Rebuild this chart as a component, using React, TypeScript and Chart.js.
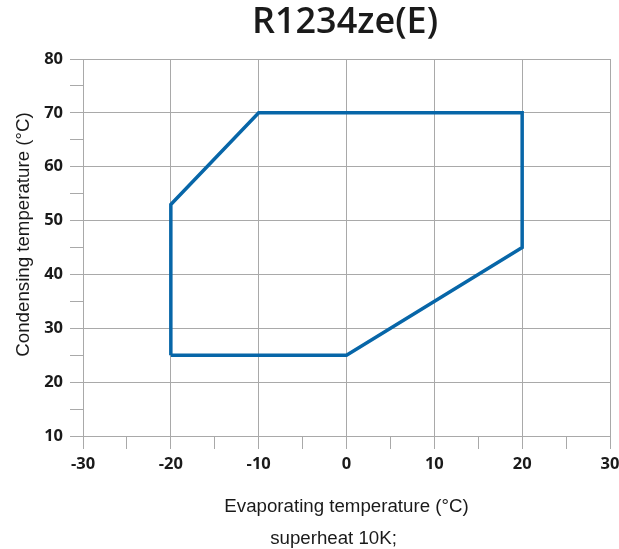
import React, { useEffect, useRef } from "react";
import { Chart, registerables } from "chart.js";

Chart.register(...registerables);

const chartTitle = "R1234ze(E)";
const xAxisTitle = ["Evaporating temperature (°C)", "superheat 10K;     "];
const yAxisTitle = "     Condensing temperature (°C)";
const envelopeX = [-20, -20, -10, 20, 20, 0, -20];
const envelopeY = [25, 53, 70, 70, 45, 25, 25];
const xRange = [-30, 30];
const yRange = [10, 80];

const GRID = "#a9a9a9";

const titlePlugin = {
  id: "topTitle",
  afterDraw(chart: any) {
    const ctx = chart.ctx;
    ctx.save();
    ctx.font = '600 36px "Open Sans"';
    ctx.fillStyle = "#1a1a1a";
    ctx.textAlign = "center";
    ctx.textBaseline = "middle";
    ctx.fillText(chartTitle, 345, 23);
    ctx.restore();
  },
};

export default function App() {
  const ref = useRef<HTMLCanvasElement>(null);
  useEffect(() => {
    if (!ref.current) return;
    const data = envelopeX.map((x, i) => ({ x, y: envelopeY[i] }));
    const chart = new Chart(ref.current, {
      type: "scatter",
      data: {
        datasets: [
          {
            data,
            showLine: true,
            borderColor: "#0766a8",
            borderWidth: 3.5,
            pointRadius: 0,
            fill: false,
            tension: 0,
          },
        ],
      },
      options: {
        animation: false,
        responsive: false,
        devicePixelRatio: 1,
        layout: { padding: { top: 59, right: 9, left: 0, bottom: 0 } },
        plugins: { legend: { display: false }, tooltip: { enabled: false }, title: { display: false } },
        scales: {
          x: {
            type: "linear",
            min: xRange[0],
            max: xRange[1],
            afterFit: (s: any) => {
              s.height = 113;
              s.paddingRight = 0;
              s.paddingLeft = 0;
            },
            ticks: {
              stepSize: 5,
              autoSkip: false,
              maxRotation: 0,
              padding: 5,
              color: "#1a1a1a",
              font: { family: '"Open Sans"', size: 16.5, weight: "bold" },
              callback: (v: any) => (Number(v) % 10 === 0 ? String(v) : ""),
            },
            grid: {
              color: (c: any) => (c.tick && c.tick.value % 10 === 0 ? GRID : "rgba(0,0,0,0)"),
              tickColor: GRID,
              tickLength: 13,
              lineWidth: 1,
            },
            border: { color: GRID, width: 1 },
            title: {
              display: true,
              text: xAxisTitle,
              color: "#1a1a1a",
              font: { family: '"Liberation Sans"', size: 18.7, lineHeight: 32 / 18.7 },
              padding: { top: 0, bottom: -6 },
            },
          },
          y: {
            type: "linear",
            min: yRange[0],
            max: yRange[1],
            afterFit: (s: any) => {
              s.width = 83;
            },
            ticks: {
              stepSize: 5,
              autoSkip: false,
              padding: 7,
              color: "#1a1a1a",
              font: { family: '"Open Sans"', size: 16.5, weight: "bold" },
              callback: (v: any) => (Number(v) % 10 === 0 ? String(v) : ""),
            },
            grid: {
              color: (c: any) => (c.tick && c.tick.value % 10 === 0 ? GRID : "rgba(0,0,0,0)"),
              tickColor: GRID,
              tickLength: 13,
              lineWidth: 1,
            },
            border: { color: GRID, width: 1 },
            title: {
              display: true,
              text: yAxisTitle,
              color: "#1a1a1a",
              font: { family: '"Liberation Sans"', size: 18.7, lineHeight: 1.2 },
              padding: { top: 12.5, bottom: 0 },
            },
          },
        },
      },
      plugins: [titlePlugin],
    });
    return () => chart.destroy();
  }, []);
  return (
    <div style={{ position: "fixed", left: 0, top: 0, width: 619, height: 549, background: "#fff" }}>
      <canvas ref={ref} width={619} height={549} style={{ display: "block" }} />
    </div>
  );
}
